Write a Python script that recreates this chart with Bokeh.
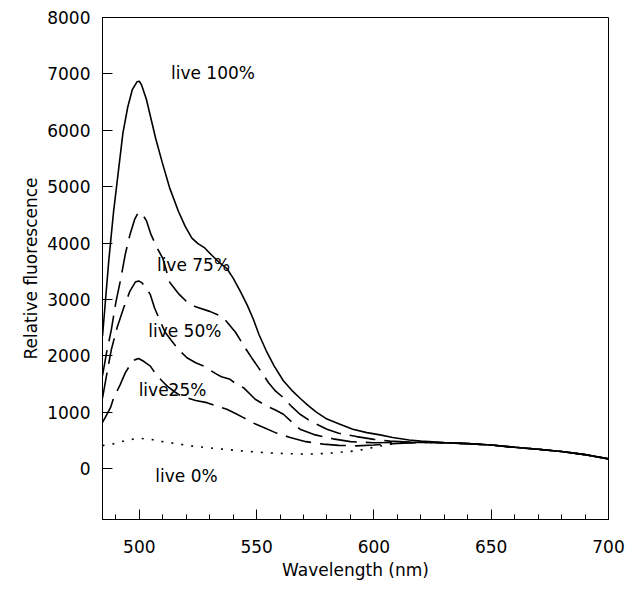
from bokeh.plotting import figure
from bokeh.models import Range1d, FixedTicker
from bokeh.core.properties import value
from bokeh.embed import file_html
from bokeh.resources import INLINE

# ---- data ----
wl_100 = [484.3, 485, 487, 489, 491, 493, 495, 497, 499, 500, 501, 503, 505, 507, 509.7, 513, 516.7, 519.5,
          522.4, 525, 528, 531, 534, 537.3, 540, 543, 546, 548.6, 551, 554, 557.5, 561.4, 565, 568.5, 572,
          575.6, 580, 585.5, 591, 597, 602.6, 608, 615, 620, 630, 640, 650, 660, 670, 680, 690, 700]
fl_100 = [2350, 2700, 3700, 4550, 5250, 5950, 6400, 6720, 6860, 6870, 6800, 6550, 6200, 5850, 5440, 4970,
          4560, 4300, 4090, 3990, 3910, 3780, 3660, 3550, 3380, 3150, 2900, 2650, 2380, 2100, 1820, 1560,
          1390, 1250, 1120, 1000, 880, 790, 700, 640, 600, 555, 510, 490, 465, 445, 420, 380, 345, 305, 250, 175]

wl_75 = [484.3, 486, 488, 490, 492, 494, 496, 498, 499.5, 501, 503, 505, 507.5, 510, 513, 517, 520, 524, 530,
         534, 537, 541, 545, 548, 551, 555, 558, 561.4, 565, 568.5, 572, 575.6, 580, 585, 592.6, 600, 606.8,
         615, 620, 630, 640, 650, 660, 670, 680, 690, 700]
fl_75 = [1650, 2050, 2450, 2950, 3350, 3800, 4150, 4420, 4540, 4530, 4400, 4150, 3920, 3730, 3300, 3090, 2970,
         2870, 2790, 2720, 2620, 2420, 2150, 1960, 1780, 1530, 1380, 1260, 1100, 966, 870, 790, 700, 630, 570,
         520, 490, 475, 470, 460, 445, 420, 380, 345, 305, 250, 175]

wl_50 = [484.3, 486, 488, 490.5, 493.3, 496, 498.3, 499.7, 501, 503, 504.7, 506.5, 508.9, 511, 513.9, 517,
         520.3, 524, 527.4, 530, 533.1, 535, 538.7, 541, 544.4, 549.4, 554.3, 558, 561.4, 565, 568.5, 575,
         582.6, 590, 600, 610, 620, 630, 640, 650, 660, 670, 680, 690, 700]
fl_50 = [1250, 1650, 2100, 2500, 2850, 3150, 3310, 3330, 3300, 3200, 3086, 2850, 2615, 2420, 2260, 2100, 1967,
         1880, 1820, 1750, 1673, 1630, 1585, 1510, 1437, 1231, 1113, 1040, 966, 830, 701, 600, 530, 480, 460,
         465, 470, 460, 445, 420, 380, 345, 305, 250, 175]

wl_25 = [484.3, 486, 487.7, 489, 491.9, 494, 496.2, 498, 499.7, 502, 504.7, 507, 509.7, 512, 514.6, 517, 520.3,
         524, 528.8, 533, 537.3, 541, 544.4, 548, 553, 558, 564.3, 571, 578.4, 585, 592.6, 600, 610, 620, 630,
         640, 650, 660, 670, 680, 690, 700]
fl_25 = [820, 950, 1083, 1250, 1496, 1700, 1849, 1930, 1955, 1900, 1820, 1680, 1555, 1460, 1378, 1310, 1260,
         1210, 1172, 1110, 1054, 980, 906, 820, 730, 640, 553, 480, 436, 415, 406, 420, 450, 465, 460, 445, 420,
         380, 345, 305, 250, 175]

wl_0 = [484.3, 490, 495, 500, 505, 510, 515, 521.7, 530, 543, 555, 570, 580, 592.6, 600, 606.8, 615, 620, 630,
        640, 650, 660, 670, 680, 690, 700]
fl_0 = [410, 450, 510, 540, 520, 480, 450, 406, 370, 318, 280, 259, 270, 318, 380, 436, 465, 470, 460, 445,
        420, 380, 345, 305, 250, 175]

label_text = ["live 100%", "live 75%", "live 50%", "live25%", "live 0%"]
label_x = [513.5, 507.5, 503.8, 499.7, 506.8]
label_y = [7020, 3620, 2440, 1400, -130]

x_ticks = [500, 550, 600, 650, 700]
x_minor = list(range(490, 701, 10))
y_ticks = [0, 1000, 2000, 3000, 4000, 5000, 6000, 7000, 8000]

FONT = "DejaVu Sans"

p = figure(width=635, height=585, output_backend="svg", toolbar_location=None,
           x_range=Range1d(484.3, 700), y_range=Range1d(-900, 8000),
           min_border_left=102, min_border_right=27, min_border_top=17, min_border_bottom=66)

p.background_fill_color = "white"
p.border_fill_color = "white"
p.outline_line_color = "black"
p.outline_line_width = 1
p.xgrid.visible = False
p.ygrid.visible = False

lw = 1.6
p.line(wl_100, fl_100, line_color="black", line_width=lw)
p.line(wl_75, fl_75, line_color="black", line_width=lw, line_dash="26 9")
p.line(wl_50, fl_50, line_color="black", line_width=lw, line_dash="26 9")
p.line(wl_25, fl_25, line_color="black", line_width=lw, line_dash="26 9")
p.line(wl_0, fl_0, line_color="black", line_width=lw, line_dash="2 8")

p.text(x=label_x, y=label_y, text=label_text, text_font=value(FONT), text_font_size="17px",
       text_align="left", text_baseline="middle", text_color="black")

for ax in (p.xaxis[0], p.yaxis[0]):
    ax.axis_line_color = "black"
    ax.major_tick_line_color = "black"
    ax.major_tick_in = 10
    ax.major_tick_out = 0
    ax.major_label_text_font = FONT
    ax.major_label_text_font_size = "17px"
    ax.major_label_text_color = "black"
    ax.axis_label_text_font = FONT
    ax.axis_label_text_font_size = "17px"
    ax.axis_label_text_font_style = "normal"
    ax.axis_label_text_color = "black"

p.xaxis.ticker = FixedTicker(ticks=x_ticks, minor_ticks=x_minor)
p.xaxis.minor_tick_in = 5
p.xaxis.minor_tick_out = 0
p.xaxis.minor_tick_line_color = "black"
p.xaxis.major_label_standoff = 20
p.xaxis.axis_label = "Wavelength (nm)"
p.xaxis.axis_label_standoff = 4

p.yaxis.ticker = FixedTicker(ticks=y_ticks)
p.yaxis.minor_tick_line_color = None
p.yaxis.major_label_standoff = 12
p.yaxis.axis_label = "Relative fluorescence"
p.yaxis.axis_label_standoff = 3

open("out.html", "w").write(file_html(p, INLINE))
